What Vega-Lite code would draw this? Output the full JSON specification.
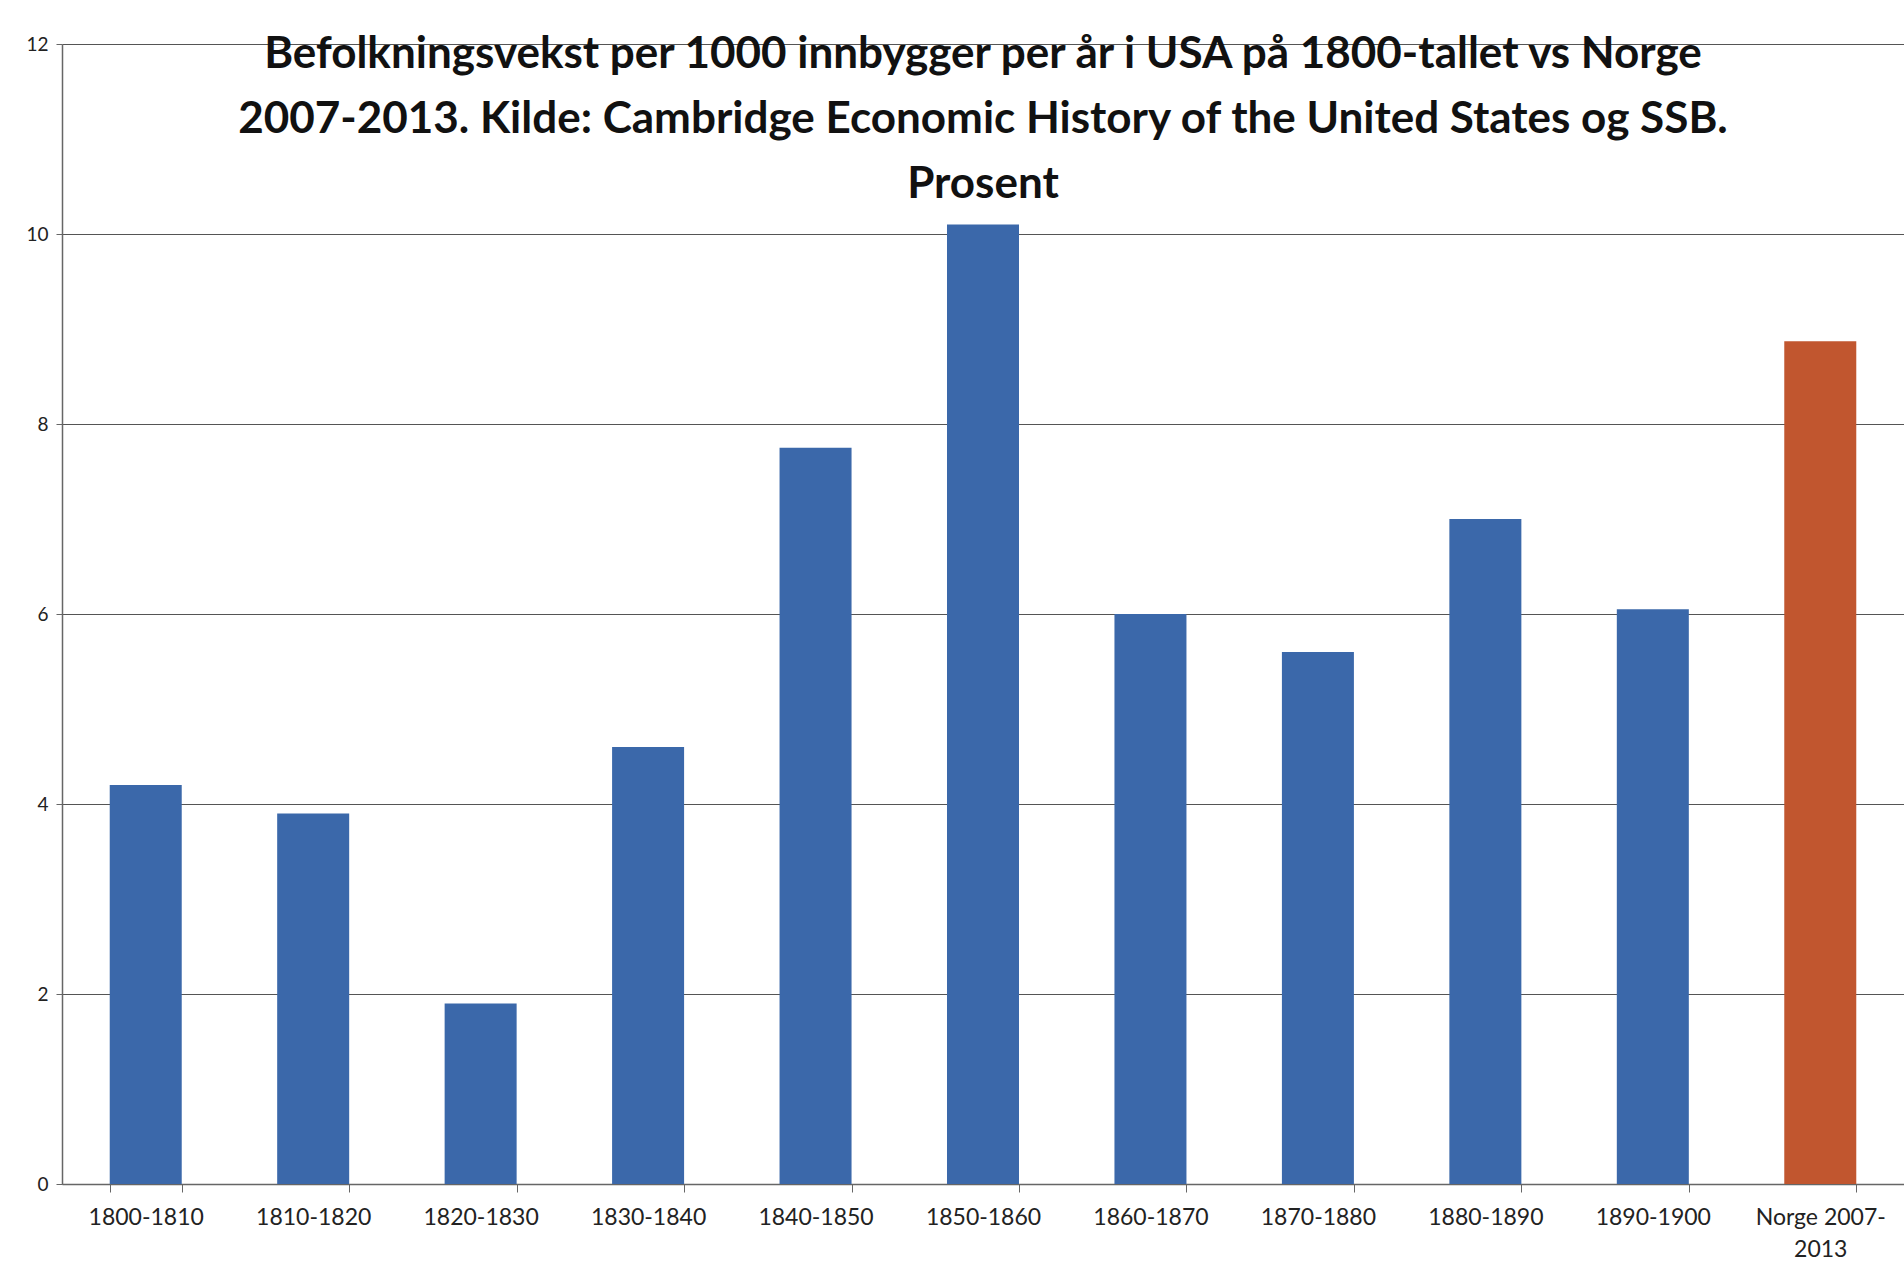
{
  "$schema": "https://vega.github.io/schema/vega-lite/v6.json",
  "autosize": {"type": "none"},
  "width": 1842,
  "height": 1140,
  "padding": {"left": 62, "top": 44, "right": 0, "bottom": 96},
  "background": "white",
  "title": {
    "text": ["Befolkningsvekst per 1000 innbygger per år i USA på 1800-tallet vs Norge", "2007-2013. Kilde: Cambridge Economic History of the United States og SSB.", "Prosent"],
    "font": "Lato",
    "fontWeight": "bold",
    "fontSize": 44,
    "lineHeight": 65,
    "color": "#111111",
    "anchor": "middle",
    "baseline": "top",
    "offset": -172
  },
  "data": {
    "values": [
      {"periode": "1800-1810", "vekst": 4.2, "land": "USA"},
      {"periode": "1810-1820", "vekst": 3.9, "land": "USA"},
      {"periode": "1820-1830", "vekst": 1.9, "land": "USA"},
      {"periode": "1830-1840", "vekst": 4.6, "land": "USA"},
      {"periode": "1840-1850", "vekst": 7.75, "land": "USA"},
      {"periode": "1850-1860", "vekst": 10.1, "land": "USA"},
      {"periode": "1860-1870", "vekst": 6.0, "land": "USA"},
      {"periode": "1870-1880", "vekst": 5.6, "land": "USA"},
      {"periode": "1880-1890", "vekst": 7.0, "land": "USA"},
      {"periode": "1890-1900", "vekst": 6.05, "land": "USA"},
      {"periode": "Norge 2007-2013", "vekst": 8.87, "land": "Norge"}
    ]
  },
  "mark": {"type": "bar"},
  "encoding": {
    "x": {
      "field": "periode",
      "type": "nominal",
      "sort": null,
      "scale": {"paddingInner": 0.57, "paddingOuter": 0.285},
      "axis": {
        "title": null,
        "labelAngle": 0,
        "labelFont": "Lato",
        "labelFontSize": 23,
        "labelColor": "#222222",
        "labelPadding": 14,
        "labelExpr": "datum.label == 'Norge 2007-2013' ? ['Norge 2007-', '2013'] : datum.label",
        "labelLineHeight": 32,
        "domainColor": "#666666",
        "domainWidth": 1.5,
        "tickColor": "#666666",
        "tickSize": 8,
        "tickBand": "extent",
        "grid": false
      }
    },
    "y": {
      "field": "vekst",
      "type": "quantitative",
      "scale": {"domain": [0, 12], "nice": false},
      "axis": {
        "title": null,
        "values": [0, 2, 4, 6, 8, 10, 12],
        "labelFont": "Lato",
        "labelFontSize": 19,
        "labelColor": "#222222",
        "labelPadding": 8,
        "domainColor": "#666666",
        "domainWidth": 1.5,
        "tickColor": "#666666",
        "tickSize": 6,
        "grid": true,
        "gridColor": "#555555",
        "gridWidth": 1.2
      }
    },
    "color": {
      "field": "land",
      "type": "nominal",
      "scale": {"domain": ["USA", "Norge"], "range": ["#3b68aa", "#c1562f"]},
      "legend": null
    }
  },
  "config": {"view": {"stroke": null}}
}
